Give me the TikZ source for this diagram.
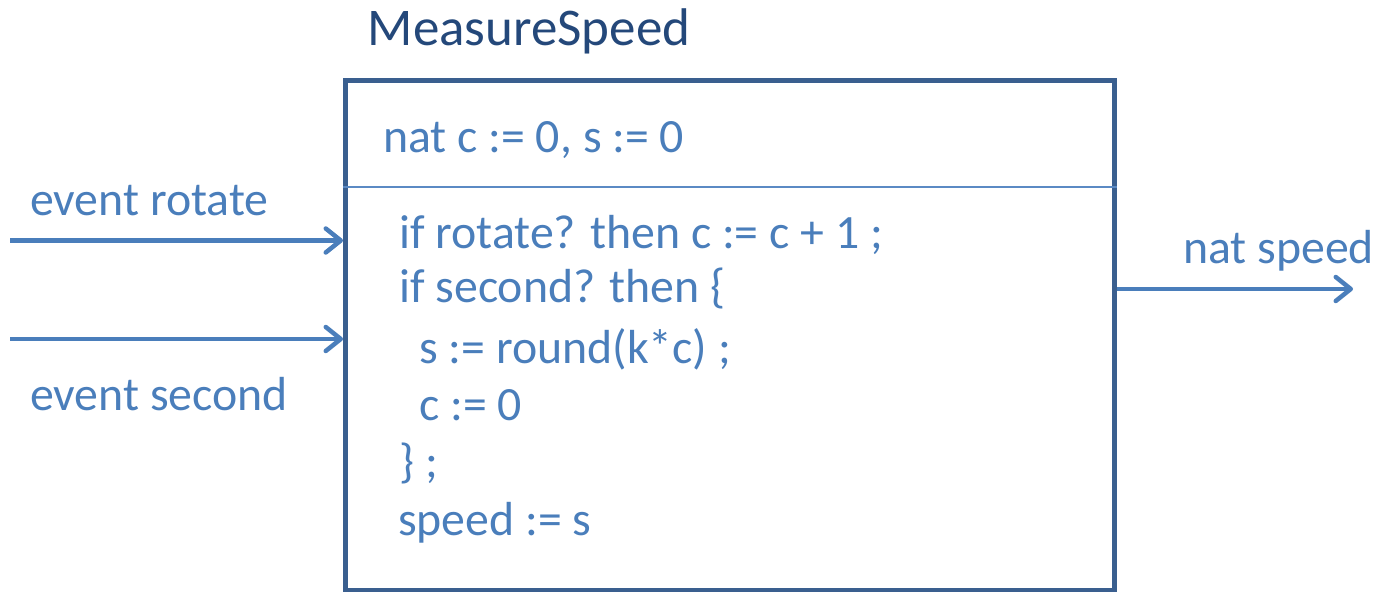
\documentclass[tikz,border=0pt]{standalone}
\usepackage{fontspec}
\setmainfont{Carlito}
\usetikzlibrary{arrows.meta}
\definecolor{boxc}{HTML}{3A5F8F}
\definecolor{txtc}{HTML}{4A7EBB}
\definecolor{titc}{HTML}{24487A}
\definecolor{sepc}{HTML}{5B8AC4}
\tikzset{
  txt/.style={anchor=base west, inner sep=0pt, text=txtc, font=\fontsize{47.8}{57}\selectfont},
  arr/.style={draw=txtc, line width=4.5pt, -{Straight Barb[length=15pt,width=24pt,round]}},
}
\begin{document}
\begin{tikzpicture}[x=1pt,y=-1pt]
\useasboundingbox (0,0) rectangle (1377,592);
\node[draw=boxc, line width=5pt, minimum width=769pt, minimum height=509.5pt, inner sep=0pt] (box) at (730,335.25) {};
\node[anchor=base, inner sep=0pt, text=titc, font=\fontsize{53}{63}\selectfont] (title) at (529,45) {MeasureSpeed};
\draw[sepc, line width=2pt] (box.west |- 0,186.5) coordinate (s1) -- (box.east |- 0,186.5) coordinate (s2);
\node[txt] (decl) at (383,152) {nat c := 0, s := 0};
\node[txt] (l1) at (399,248) {if rotate? then c := c + 1 ;};
\node[txt] (l2) at (399,302) {if second? then \{};
\node[txt] (l3) at (419,363) {s := round(k*c) ;};
\node[txt] (l4) at (419,420) {c := 0};
\node[txt] (l5) at (399,477) {\} ;};
\node[txt] (l6) at (398,535) {speed := s};
\node[txt] (lr) at (30,215) {event rotate};
\node[txt] (ls) at (30,410) {event second};
\node[txt] (lo) at (1183,263) {nat speed};
\coordinate (in1) at (10,240.5);
\coordinate (in2) at (10,339);
\coordinate (out) at (1353,289);
\draw[arr] (in1) -- (box.west |- in1);
\draw[arr] (in2) -- (box.west |- in2);
\draw[arr] (box.east |- out) -- (out);
\end{tikzpicture}
\end{document}
